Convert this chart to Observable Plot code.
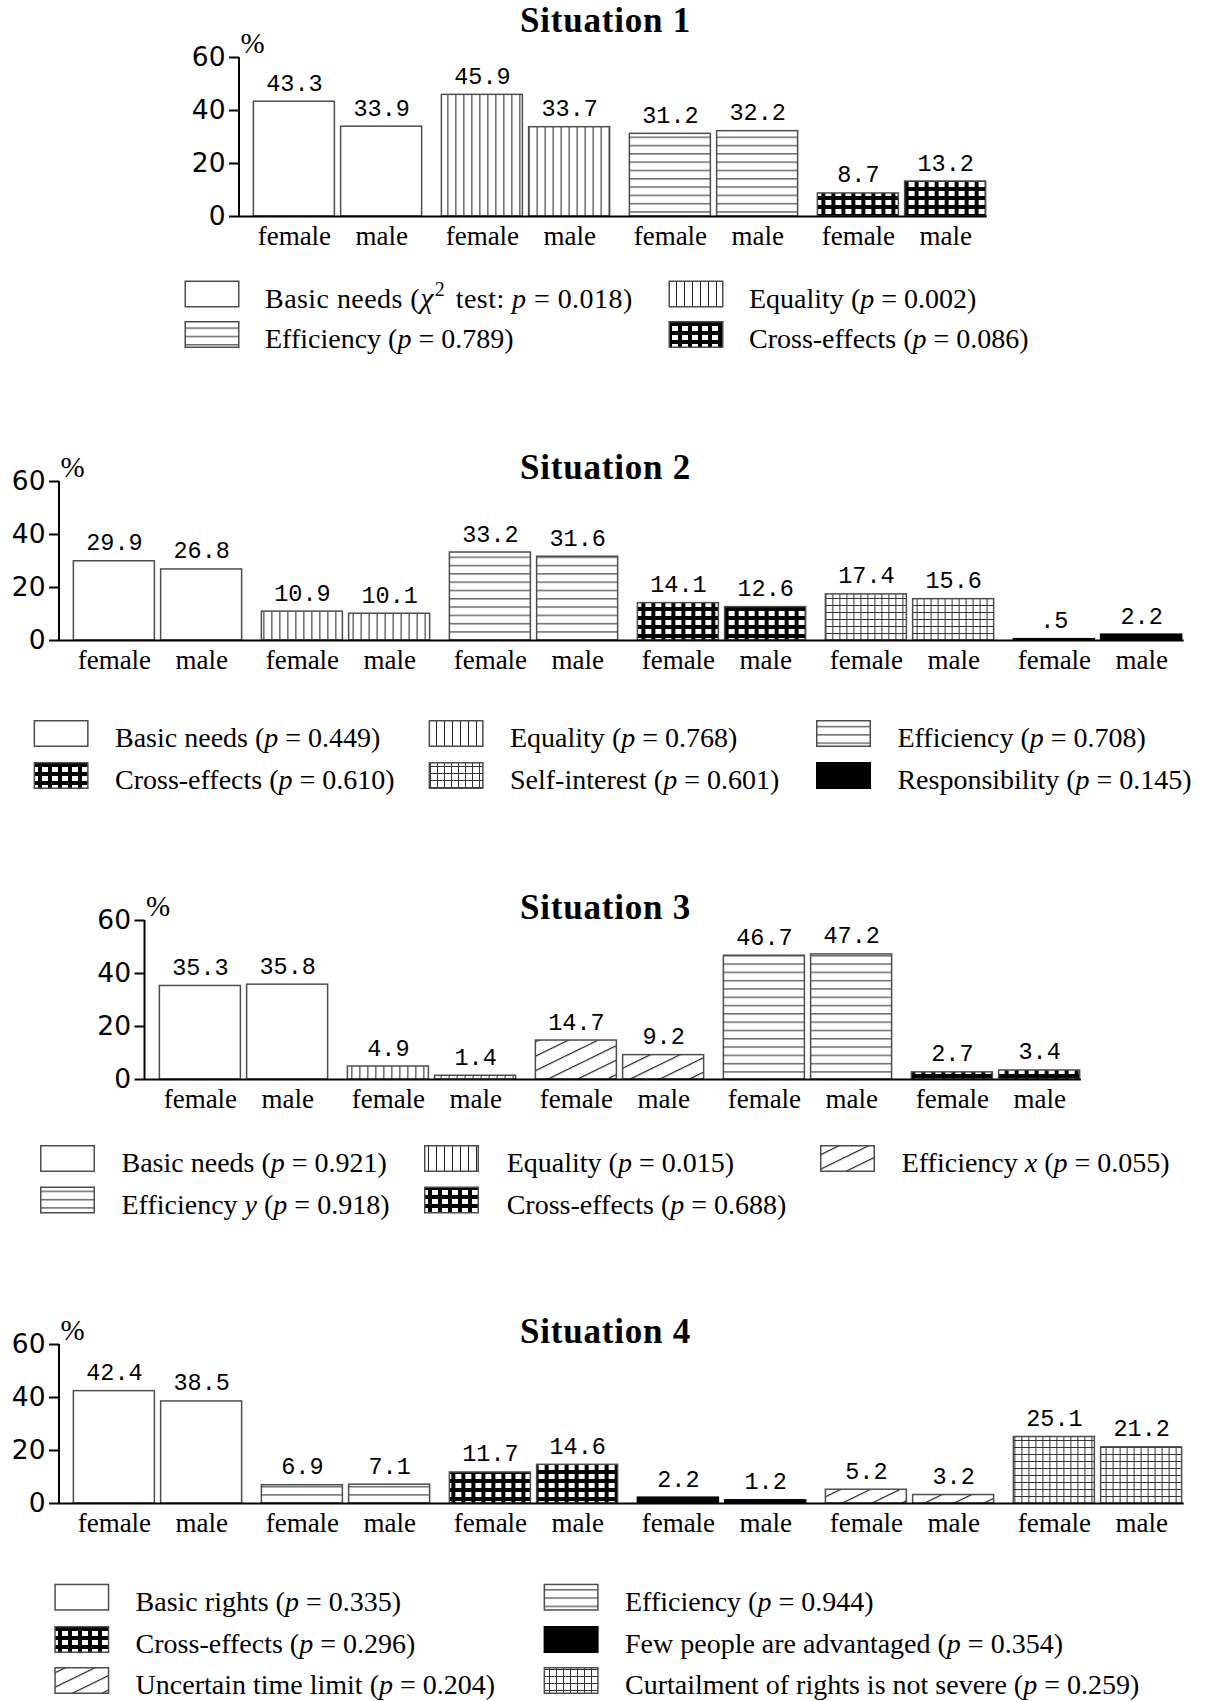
<!DOCTYPE html>
<html>
<head>
<meta charset="utf-8">
<script src="https://cdn.jsdelivr.net/npm/d3@7"></script>
<script src="https://cdn.jsdelivr.net/npm/@observablehq/plot@0.6"></script>
<style>
  html, body { margin: 0; padding: 0; background: #fff; overflow: hidden; }
  #page { position: relative; width: 1211px; height: 1701px; overflow: hidden; background: #fff; }
  .panel { position: absolute; left: 0; }
  .title { position: absolute; left: 0; width: 1211px; text-align: center; font-family: "Liberation Serif", serif;
           font-weight: bold; font-size: 35px; line-height: 35px; letter-spacing: 0.8px; color: #000; }
  #legends { position: absolute; left: 0; top: 0; }
</style>
</head>
<body>
<div id="page"></div>
<script>
// ---------------- data ----------------
const sexes = ["female", "male"];
const yTicks = [0, 20, 40, 60];

const s1Categories = ["Basic needs", "Equality", "Efficiency", "Cross-effects"];
const s1Female = [43.3, 45.9, 31.2, 8.7];
const s1Male = [33.9, 33.7, 32.2, 13.2];
const s1P = ["0.018", "0.002", "0.789", "0.086"];

const s2Categories = ["Basic needs", "Equality", "Efficiency", "Cross-effects", "Self-interest", "Responsibility"];
const s2Female = [29.9, 10.9, 33.2, 14.1, 17.4, 0.5];
const s2Male = [26.8, 10.1, 31.6, 12.6, 15.6, 2.2];
const s2P = ["0.449", "0.768", "0.708", "0.610", "0.601", "0.145"];

const s3Categories = ["Basic needs", "Equality", "Efficiency x", "Efficiency y", "Cross-effects"];
const s3Female = [35.3, 4.9, 14.7, 46.7, 2.7];
const s3Male = [35.8, 1.4, 9.2, 47.2, 3.4];
const s3P = ["0.921", "0.015", "0.055", "0.918", "0.688"];

const s4Categories = ["Basic rights", "Efficiency", "Cross-effects", "Few people are advantaged", "Uncertain time limit", "Curtailment of rights is not severe"];
const s4Female = [42.4, 6.9, 11.7, 2.2, 5.2, 25.1];
const s4Male = [38.5, 7.1, 14.6, 1.2, 3.2, 21.2];
const s4P = ["0.335", "0.944", "0.296", "0.354", "0.204", "0.259"];

// ---------------- styles ----------------
const patternOf = {
  "Basic needs": "white",
  "Basic rights": "white",
  "Equality": "url(#pat-v)",
  "Efficiency": "url(#pat-h)",
  "Efficiency y": "url(#pat-h)",
  "Efficiency x": "url(#pat-d)",
  "Uncertain time limit": "url(#pat-d)",
  "Cross-effects": "url(#pat-m)",
  "Self-interest": "url(#pat-g)",
  "Curtailment of rights is not severe": "url(#pat-g)",
  "Responsibility": "black",
  "Few people are advantaged": "black"
};
const barStroke = "#4d4d4d";

const layout = { groupStep: 188.7, innerStep: 87.6, barWidth: 81, pageWidth: 1211 };

const panels = [
  { title: "Situation 1", categories: s1Categories, female: s1Female, male: s1Male, p: s1P, chi: true,
    top: 0, height: 262, marginTop: 57, marginBottom: 46, axisX: 239, firstLeft: 252, titleTop: 2.7,
    legendRows: [307.5, 348], legendCols: [{swatch: 184.5, text: 265}, {swatch: 668.5, text: 749}] },
  { title: "Situation 2", categories: s2Categories, female: s2Female, male: s2Male, p: s2P,
    top: 420, height: 265, marginTop: 61, marginBottom: 45, axisX: 59, firstLeft: 71.6, titleTop: 449.7,
    legendRows: [747, 789], legendCols: [{swatch: 33.6, text: 115}, {swatch: 428.6, text: 510}, {swatch: 816, text: 897.4}] },
  { title: "Situation 3", categories: s3Categories, female: s3Female, male: s3Male, p: s3P,
    top: 860, height: 265, marginTop: 60, marginBottom: 46, axisX: 144.5, firstLeft: 157.5, titleTop: 889.7,
    legendRows: [1172, 1213.5], legendCols: [{swatch: 40, text: 121.5}, {swatch: 424, text: 506.7}, {swatch: 820, text: 901.7}] },
  { title: "Situation 4", categories: s4Categories, female: s4Female, male: s4Male, p: s4P,
    top: 1283, height: 265, marginTop: 61, marginBottom: 45, axisX: 59, firstLeft: 71.6, titleTop: 1313.7,
    legendRows: [1610.7, 1653, 1694], legendCols: [{swatch: 54.3, text: 135.6}, {swatch: 543.6, text: 625}] }
];

const page = document.getElementById("page");

// pattern definitions (shared by all SVGs in the document)
const defsSvg = d3.create("svg").attr("width", 0).attr("height", 0)
  .style("position", "absolute").style("left", 0).style("top", 0);
defsSvg.html(`
<defs>
  <pattern id="pat-v" patternUnits="userSpaceOnUse" width="8" height="8">
    <rect width="8" height="8" fill="white"/><rect x="4" width="1" height="8" fill="#222"/>
  </pattern>
  <pattern id="pat-h" patternUnits="userSpaceOnUse" width="8" height="8.3">
    <rect width="8" height="8.3" fill="white"/><rect y="4" width="8" height="1" fill="#222"/>
  </pattern>
  <pattern id="pat-d" patternUnits="userSpaceOnUse" width="12" height="13" patternTransform="rotate(-26)">
    <rect width="12" height="13" fill="white"/><rect y="6" width="12" height="1.2" fill="#222"/>
  </pattern>
  <pattern id="pat-m" patternUnits="userSpaceOnUse" width="10" height="9">
    <rect width="10" height="9" fill="black"/><rect x="2" y="2" width="6" height="5" fill="white"/>
  </pattern>
  <pattern id="pat-g" patternUnits="userSpaceOnUse" width="7" height="7">
    <rect width="7" height="7" fill="white"/><rect x="3" width="1" height="7" fill="#333"/><rect y="3" width="7" height="1" fill="#333"/>
  </pattern>
</defs>`);
page.appendChild(defsSvg.node());

const fmtValue = v => (v < 1 ? v.toFixed(1).replace(/^0/, "") : v.toFixed(1));

function drawPanel(cfg) {
  const rows = [];
  cfg.categories.forEach((c, i) => {
    rows.push({cat: c, sex: "female", key: c + "|female", value: cfg.female[i]});
    rows.push({cat: c, sex: "male", key: c + "|male", value: cfg.male[i]});
  });
  const keys = rows.map(d => d.key);
  const N = cfg.categories.length;
  const avgStep = layout.groupStep / 2;
  const shiftAmt = (avgStep - layout.innerStep) / 2;
  const shift = {female: shiftAmt, male: -shiftAmt};
  const lastRight = cfg.firstLeft + (N - 1) * layout.groupStep + layout.innerStep + layout.barWidth;

  const marks = [];
  for (const c of cfg.categories) {
    for (const s of sexes) {
      const fill = patternOf[c];
      marks.push(Plot.barY(rows.filter(d => d.cat === c && d.sex === s), {
        x: "key", y: "value", fill,
        stroke: fill === "black" ? "black" : barStroke, strokeWidth: 1.5, dx: shift[s]
      }));
    }
  }
  marks.push(Plot.ruleY([0], {stroke: "black", strokeWidth: 2}));
  // y axis line
  marks.push((index, scales, values, dims) => {
    return d3.create("svg:line")
      .attr("x1", dims.marginLeft).attr("x2", dims.marginLeft)
      .attr("y1", dims.marginTop).attr("y2", dims.height - dims.marginBottom + 1)
      .attr("stroke", "black").attr("stroke-width", 2).node();
  });
  marks.push(Plot.axisY(yTicks, {
    tickSize: 10, tickPadding: 4, strokeWidth: 2, label: null,
    fontFamily: "DejaVu Sans", fontSize: 26.5
  }));
  for (const s of sexes) {
    marks.push(Plot.axisX(keys.filter(k => k.endsWith("|" + s)), {
      tickSize: 0, tickPadding: 9, label: null, tickFormat: k => k.split("|")[1],
      fontFamily: "Liberation Serif", fontSize: 27, dx: shift[s]
    }));
    marks.push(Plot.text(rows.filter(d => d.sex === s), {
      x: "key", y: "value", text: d => fmtValue(d.value), dy: -11, dx: shift[s],
      lineAnchor: "bottom", fontFamily: "Liberation Mono", fontSize: 23.5
    }));
  }
  marks.push(Plot.text(["%"], {
    frameAnchor: "top-left", text: d => d, textAnchor: "start", lineAnchor: "bottom",
    dx: 1, dy: -5, fontFamily: "Liberation Serif", fontSize: 29
  }));

  const chart = Plot.plot({
    width: layout.pageWidth, height: cfg.height,
    marginTop: cfg.marginTop, marginBottom: cfg.marginBottom,
    marginLeft: cfg.axisX, marginRight: layout.pageWidth - lastRight,
    x: {type: "band", domain: keys, range: [cfg.firstLeft - shiftAmt, lastRight + shiftAmt],
        paddingInner: 1 - layout.barWidth / avgStep, paddingOuter: 0, align: 0.5},
    y: {domain: [0, 60]},
    style: {fontFamily: "DejaVu Sans", fontSize: "26px", background: "transparent", overflow: "visible", color: "black"},
    marks
  });
  chart.classList.add("panel");
  chart.style.top = cfg.top + "px";
  chart.style.position = "absolute";
  chart.style.maxWidth = "none";
  page.appendChild(chart);
}

panels.forEach(drawPanel);

// ---------------- titles ----------------
for (const cfg of panels) {
  const t = document.createElement("div");
  t.className = "title";
  t.style.top = cfg.titleTop + "px";
  t.textContent = cfg.title;
  page.appendChild(t);
}

// ---------------- legends ----------------
const leg = d3.create("svg").attr("id", "legends").attr("width", 1211).attr("height", 1701)
  .style("font-family", "'Liberation Serif', serif").style("font-size", "28px");
for (const cfg of panels) {
  const ncol = cfg.legendCols.length;
  cfg.categories.forEach((c, i) => {
    const r = Math.floor(i / ncol), k = i % ncol;
    const base = cfg.legendRows[r];
    const col = cfg.legendCols[k];
    const fill = patternOf[c];
    leg.append("rect")
      .attr("x", col.swatch + 0.75).attr("y", base - 27 + 0.75)
      .attr("width", 55 - 1.5).attr("height", 27 - 1.5)
      .attr("fill", fill).attr("stroke", fill === "black" ? "black" : barStroke).attr("stroke-width", 1.5);
    const t = leg.append("text").attr("x", col.text).attr("y", base).attr("fill", "black");
    const m = c.match(/^(.*) ([xy])$/);
    if (m) {
      t.append("tspan").text(m[1] + " ");
      t.append("tspan").attr("font-style", "italic").text(m[2]);
    } else {
      t.append("tspan").text(c);
    }
    t.append("tspan").text(" (");
    if (cfg.chi && i === 0) {
      t.style("letter-spacing", "0.45px");
      t.append("tspan").attr("font-style", "italic").attr("font-size", "30px").text("χ");
      t.append("tspan").attr("dy", -12).attr("dx", 1).attr("font-size", "20px").text("2");
      t.append("tspan").attr("dy", 12).attr("dx", 3).text(" test: ");
    }
    t.append("tspan").attr("font-style", "italic").text("p");
    t.append("tspan").text(" = " + cfg.p[i] + ")");
  });
}
page.appendChild(leg.node());
</script>
</body>
</html>
